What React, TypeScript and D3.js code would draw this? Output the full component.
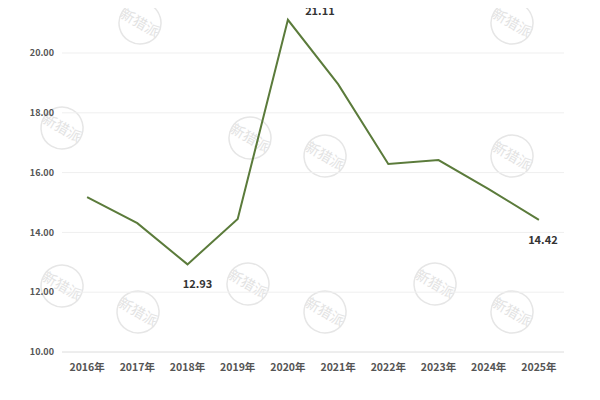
import React, { useEffect, useRef } from 'react';
import * as d3 from 'd3';

const years = ['2016年', '2017年', '2018年', '2019年', '2020年', '2021年', '2022年', '2023年', '2024年', '2025年'];
const values = [15.18, 14.31, 12.93, 14.45, 21.11, 18.96, 16.29, 16.42, 15.45, 14.42];
const yTicks = [10, 12, 14, 16, 18, 20];
const labelled = ['2018年', '2020年', '2025年'];

// faint logo watermarks in the background
const marks = [[140, 23], [512, 23], [62, 128], [250, 138], [325, 156], [512, 156], [62, 286], [248, 284], [435, 284], [138, 312], [325, 312], [512, 312]];

const FONT = '"Noto Sans CJK SC", "Noto Sans", sans-serif';

const App = () => {
  const svgRef = useRef<SVGSVGElement | null>(null);

  useEffect(() => {
    const svg = d3.select(svgRef.current);
    svg.selectAll('*').remove();

    const W = 600, H = 400;
    const left = 62, right = 564, top = 53, bottom = 352;

    svg.attr('width', W).attr('height', H).style('font-family', FONT);
    svg.append('rect').attr('width', W).attr('height', H).attr('fill', '#fff');

    const wm = svg.append('g').attr('class', 'watermarks');
    marks.forEach(([cx, cy]) => {
      const g = wm.append('g').attr('transform', `translate(${cx},${cy}) rotate(30)`);
      g.append('circle').attr('r', 21).attr('fill', 'none').attr('stroke', '#e6e6e6').attr('stroke-width', 1.5);
      g.append('text')
        .attr('text-anchor', 'middle').attr('dy', '0.35em')
        .style('font-size', '14px').style('fill', '#e3e3e3')
        .text('新猎派');
    });

    const x = d3.scaleBand().domain(years).range([left, right]);
    const y = d3.scaleLinear().domain([10, 20]).range([bottom, top]);

    svg.append('g')
      .selectAll('line')
      .data(yTicks)
      .join('line')
      .attr('x1', left).attr('x2', right)
      .attr('y1', d => y(d)).attr('y2', d => y(d))
      .attr('stroke', d => d === 10 ? '#dcdcdc' : '#efefef')
      .attr('stroke-width', 1);

    svg.append('g')
      .selectAll('text')
      .data(yTicks)
      .join('text')
      .attr('x', 54).attr('y', d => y(d))
      .attr('dy', '0.35em')
      .attr('text-anchor', 'end')
      .style('font-size', '9px').style('font-weight', 'bold').style('fill', '#555')
      .text(d => d.toFixed(2));

    svg.append('g')
      .selectAll('text')
      .data(years)
      .join('text')
      .attr('x', d => (x(d) ?? 0) + x.bandwidth() / 2).attr('y', 367)
      .attr('dy', '0.35em')
      .attr('text-anchor', 'middle')
      .style('font-size', '10.5px').style('font-weight', 'bold').style('fill', '#555')
      .text(d => d);

    const line = d3.line<number>()
      .x((_, i) => (x(years[i]) ?? 0) + x.bandwidth() / 2)
      .y(d => y(d));

    svg.append('path')
      .datum(values)
      .attr('d', line)
      .attr('fill', 'none')
      .attr('stroke', '#5b7b3b')
      .attr('stroke-width', 2)
      .attr('stroke-linejoin', 'miter');

    svg.append('g')
      .selectAll('text')
      .data(years.map((yr, i) => ({ yr, v: values[i] })).filter(d => labelled.includes(d.yr)))
      .join('text')
      .attr('x', d => (x(d.yr) ?? 0) + x.bandwidth() / 2 + (d.yr === '2020年' ? 32 : d.yr === '2018年' ? 10 : 4))
      .attr('y', d => d.yr === '2020年' ? y(d.v) - 9 : y(d.v) + 20)
      .attr('dy', '0.35em')
      .attr('text-anchor', 'middle')
      .style('font-size', '11px').style('font-weight', 'bold').style('fill', '#333')
      .text(d => d.v.toFixed(2));
  }, []);

  return <svg ref={svgRef} style={{ display: 'block', margin: '-8px' }}></svg>;
};

export default App;
